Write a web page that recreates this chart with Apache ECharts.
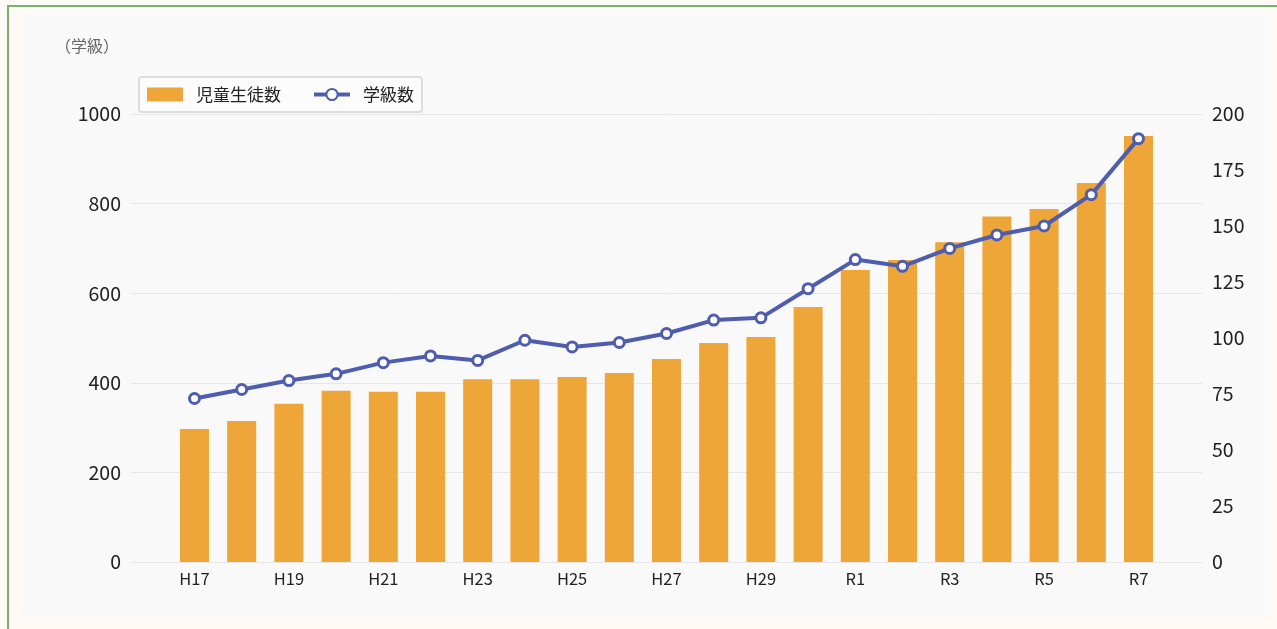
<!DOCTYPE html>
<html>
<head>
<meta charset="utf-8">
<script src="https://cdn.jsdelivr.net/npm/echarts@6/dist/echarts.min.js"></script>
<style>
  html, body { margin: 0; padding: 0; background: #fffaf6; }
  .frame {
    position: absolute; left: 7px; top: 5px; width: 1270px; height: 624px;
    border-left: 2px solid #73b56f; border-top: 2px solid #73b56f;
  }
  .panel {
    position: absolute; left: 22px; top: 13px; width: 1248px; height: 604px;
    background: #f9f9f9;
  }
  #chart { position: absolute; left: 0; top: 0; width: 1277px; height: 629px; }
</style>
</head>
<body>
<div class="frame"></div>
<div class="panel"></div>
<div id="chart"></div>
<script>
// 年度
const years = ['H17', 'H18', 'H19', 'H20', 'H21', 'H22', 'H23', 'H24', 'H25', 'H26', 'H27',
  'H28', 'H29', 'H30', 'R1', 'R2', 'R3', 'R4', 'R5', 'R6', 'R7'];
// 児童生徒数（左軸）
const students = [297, 315, 353, 382, 380, 380, 408, 408, 413, 422, 453,
  489, 502, 569, 652, 674, 714, 771, 788, 846, 951];
// 学級数（右軸）
const classes = [73, 77, 81, 84, 89, 92, 90, 99, 96, 98, 102,
  108, 109, 122, 135, 132, 140, 146, 150, 164, 189];

const font = '"Noto Sans CJK JP", "Noto Sans", sans-serif';
const barColor = '#eea638';
const lineColor = '#4e5dad';

const myChart = echarts.init(document.getElementById('chart'));

let option = {
  animation: false,
  textStyle: { fontFamily: font },
  title: {
    text: '（学級）',
    left: 50,
    top: 33,
    textStyle: { fontSize: 16, fontWeight: 'normal', color: '#666', fontFamily: font },
  },
  legend: {
    left: 139,
    top: 77,
    padding: [9, 8, 9, 8],
    itemWidth: 36,
    itemHeight: 14,
    itemGap: 31,
    backgroundColor: '#fcfcfc',
    borderColor: '#dddddd',
    borderWidth: 2,
    borderRadius: 3,
    textStyle: { fontSize: 17, color: '#222', padding: [0, 0, 0, 8], fontFamily: font },
    data: [
      { name: '児童生徒数', icon: 'rect', itemStyle: { color: barColor } },
      { name: '学級数', lineStyle: { width: 4, color: lineColor } },
    ],
  },
  grid: [
    { left: 131, right: 75, top: 114, bottom: 67 },
    { left: 170.9, right: 114.9, top: 114, bottom: 67 },
  ],
  xAxis: [
    { type: 'category', gridIndex: 0, show: false, data: years },
    {
      type: 'category',
      gridIndex: 1,
      data: years,
      axisLine: { show: false },
      axisTick: { show: false },
      axisLabel: { interval: 1, fontSize: 16.5, color: '#222', margin: 8, fontFamily: font },
    },
  ],
  yAxis: [
    {
      type: 'value', gridIndex: 0, min: 0, max: 1000, interval: 200,
      axisLine: { show: false }, axisTick: { show: false },
      axisLabel: { fontSize: 19.5, color: '#222', margin: 10, fontFamily: font, formatter: v => String(v) },
      splitLine: { lineStyle: { color: '#e6e6e6', width: 1 } },
    },
    {
      type: 'value', gridIndex: 0, position: 'right', min: 0, max: 200, interval: 25,
      axisLine: { show: false }, axisTick: { show: false },
      axisLabel: { fontSize: 19.5, color: '#222', margin: 10, fontFamily: font, formatter: v => String(v) },
      splitLine: { show: false },
    },
    { type: 'value', gridIndex: 1, min: 0, max: 1000, show: false, splitLine: { show: false } },
    { type: 'value', gridIndex: 1, min: 0, max: 200, show: false, splitLine: { show: false } },
  ],
  series: [
    {
      name: '児童生徒数',
      type: 'bar',
      xAxisIndex: 1,
      yAxisIndex: 2,
      barWidth: 29,
      itemStyle: { color: barColor },
      data: students,
    },
    {
      name: '学級数',
      type: 'line',
      xAxisIndex: 1,
      yAxisIndex: 3,
      symbol: 'circle',
      symbolSize: 10,
      z: 5,
      lineStyle: { color: lineColor, width: 4 },
      itemStyle: { color: '#ffffff', borderColor: lineColor, borderWidth: 3 },
      data: classes,
    },
  ],
};

myChart.setOption(option);
</script>
</body>
</html>
